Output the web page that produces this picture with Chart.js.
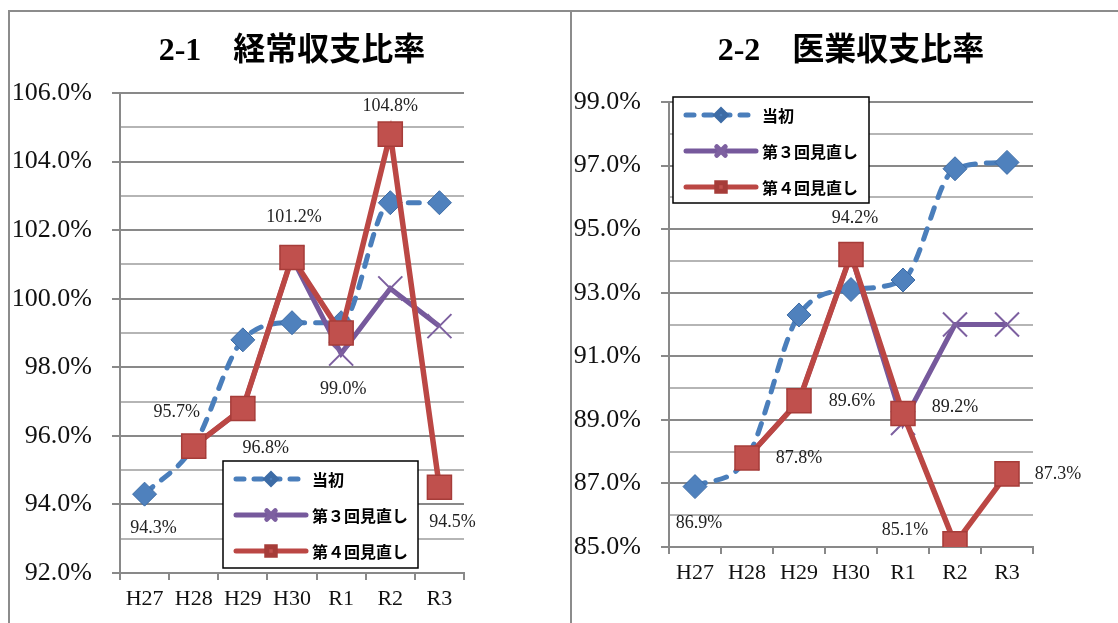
<!DOCTYPE html>
<html>
<head>
<meta charset="utf-8">
<script src="https://cdn.jsdelivr.net/npm/chart.js@4.4.1/dist/chart.umd.min.js"></script>
<style>
html, body { margin: 0; padding: 0; background: #fff; }
body { width: 1118px; height: 623px; position: relative; overflow: hidden; }
.panel { position: absolute; top: 0; height: 623px; }
#p1 { left: 0; width: 570px; }
#p2 { left: 570px; width: 548px; }
.rule { position: absolute; background: #8c8c8c; }
</style>
</head>
<body>
<div class="panel" id="p1"><canvas id="c1"></canvas></div>
<div class="panel" id="p2"><canvas id="c2"></canvas></div>
<div class="rule" style="left:8px;top:10px;width:1110px;height:2px"></div>
<div class="rule" style="left:8px;top:10px;width:2px;height:613px"></div>
<div class="rule" style="left:570px;top:10px;width:2px;height:613px"></div>

<script>
// categories and series names
const years = ['H27', 'H28', 'H29', 'H30', 'R1', 'R2', 'R3'];
const seriesNames = ['当初', '第３回見直し', '第４回見直し'];

// 2-1 経常収支比率
const keijoInitial = [94.3, 95.7, 98.8, 99.3, 99.3, 102.8, 102.8];
const keijoRev3 = [null, 95.7, 96.8, 101.2, 98.4, 100.3, 99.2];
const keijoRev4 = [null, 95.7, 96.8, 101.2, 99.0, 104.8, 94.5];
const keijoTicks = [92, 94, 96, 98, 100, 102, 104, 106];

// 2-2 医業収支比率
const igyoInitial = [86.9, 87.8, 92.3, 93.1, 93.4, 96.9, 97.1];
const igyoRev3 = [null, 87.8, 89.6, 94.2, 88.9, 92.0, 92.0];
const igyoRev4 = [null, 87.8, 89.6, 94.2, 89.2, 85.1, 87.3];
const igyoTicks = [85, 87, 89, 91, 93, 95, 97, 99];

const serif = '"Liberation Serif", "Noto Sans CJK JP"';
const majorGrid = '#898989';
const minorGrid = '#b5b5b5';

// value labels: [dataset, point, dx, dy]
const keijoLabels = [[0, 0, 9, 34], [2, 1, -17, -34], [2, 2, 23, 40], [2, 3, 2, -40],
                     [2, 4, 2, 56], [2, 5, 0, -28], [2, 6, 13, 35]];
const igyoLabels = [[0, 0, 4, 37], [2, 1, 52, 0], [2, 2, 53, 0], [2, 3, 4, -36],
                    [2, 4, 52, -6], [2, 5, -50, -14], [2, 6, 51, 0]];

// draws the percent labels next to points
const pointLabels = {
    id: 'pointLabels',
    afterDatasetsDraw(chart, args, opts) {
        const ctx = chart.ctx;
        ctx.save();
        ctx.font = '18px ' + serif;
        ctx.fillStyle = '#222';
        ctx.textAlign = 'center';
        ctx.textBaseline = 'middle';
        opts.items.forEach(([ds, i, dx, dy]) => {
            const pt = chart.getDatasetMeta(ds).data[i];
            const v = chart.data.datasets[ds].data[i];
            ctx.fillText(v.toFixed(1) + '%', pt.x + dx, pt.y + dy);
        });
        ctx.restore();
    }
};

// boxed legend sitting inside the plot
const boxLegend = {
    id: 'boxLegend',
    afterDraw(chart, args, opts) {
        const ctx = chart.ctx;
        const b = opts.box;
        ctx.save();
        ctx.fillStyle = '#fff';
        ctx.fillRect(b.x, b.y, b.w, b.h);
        ctx.lineWidth = 1.5;
        ctx.strokeStyle = '#000';
        ctx.strokeRect(b.x, b.y, b.w, b.h);
        chart.data.datasets.forEach((d, i) => {
            const y = b.y + 18 + i * 36;
            const x0 = b.x + 13, x1 = b.x + 83;
            ctx.beginPath();
            ctx.setLineDash(d.borderDash ? [8, 10] : []);
            ctx.lineCap = 'round';
            ctx.lineWidth = 5;
            ctx.strokeStyle = d.borderColor;
            ctx.moveTo(x0, y);
            ctx.lineTo(x1, y);
            ctx.stroke();
            ctx.setLineDash([]);
            ctx.fillStyle = d.pointBackgroundColor;
            ctx.strokeStyle = d.pointBorderColor;
            Chart.helpers.drawPoint(ctx, {
                pointStyle: d.pointStyle, rotation: 0,
                radius: d.legendRadius, borderWidth: d.pointBorderWidth
            }, (x0 + x1) / 2, y);
            ctx.fillStyle = '#000';
            ctx.font = 'bold 16px "Noto Sans CJK JP"';
            ctx.textAlign = 'left';
            ctx.textBaseline = 'middle';
            ctx.fillText(d.label, b.x + 89, y + 1);
        });
        ctx.restore();
    }
};

function makeChart(id, title, initial, rev3, rev4, ticks, lay) {
    const lo = ticks[0], hi = ticks[ticks.length - 1];
    const isMajor = v => ticks.includes(Math.round(v * 10) / 10);
    return new Chart(document.getElementById(id), {
        type: 'line',
        data: {
            labels: years,
            datasets: [{
                label: seriesNames[0],
                data: initial,
                order: 3,
                borderColor: '#4a7ebb',
                borderWidth: 5,
                borderDash: [11, 11],
                borderCapStyle: 'round',
                cubicInterpolationMode: 'monotone',
                pointStyle: 'rectRot',
                pointRadius: 12,
                legendRadius: 5,
                pointBackgroundColor: '#4f81bd',
                pointBorderColor: '#3d6ca6',
                pointBorderWidth: 1
            }, {
                label: seriesNames[1],
                data: rev3,
                order: 2,
                borderColor: '#76599c',
                borderWidth: 5,
                tension: 0,
                pointStyle: 'crossRot',
                pointRadius: 17,
                legendRadius: 6,
                pointBackgroundColor: '#7d60a0',
                pointBorderColor: '#7d60a0',
                pointBorderWidth: 2
            }, {
                label: seriesNames[2],
                data: rev4,
                order: 1,
                borderColor: '#bb4744',
                borderWidth: 5.5,
                tension: 0,
                pointStyle: 'rect',
                pointRadius: 17,
                legendRadius: 6,
                pointBackgroundColor: '#c0504d',
                pointBorderColor: '#a63c39',
                pointBorderWidth: 1.5
            }]
        },
        options: {
            responsive: true,
            maintainAspectRatio: false,
            animation: false,
            layout: { padding: { left: 0, top: 0, right: lay.padRight, bottom: lay.padBottom } },
            plugins: {
                legend: { display: false },
                tooltip: { enabled: false },
                title: {
                    display: true,
                    text: title,
                    fullSize: false,
                    color: '#000',
                    font: { family: serif, size: 32, weight: 'bold', lineHeight: 1.2 },
                    padding: { top: 33, bottom: lay.titleBottom }
                },
                pointLabels: { items: lay.labels },
                boxLegend: { box: lay.legendBox }
            },
            scales: {
                x: {
                    offset: true,
                    afterFit: s => { s.height = 50; },
                    grid: { offset: true, drawOnChartArea: false, tickLength: 7, color: majorGrid, lineWidth: 2 },
                    border: { color: majorGrid, width: 2 },
                    ticks: { color: '#111', padding: 6, autoSkip: false, maxRotation: 0,
                             font: { family: serif, size: 22 } }
                },
                y: {
                    min: lo,
                    max: hi,
                    afterFit: s => { s.width = lay.yWidth; },
                    grid: {
                        tickLength: 8,
                        lineWidth: 2,
                        color: c => isMajor(c.tick.value) ? majorGrid : minorGrid,
                        tickColor: c => isMajor(c.tick.value) ? majorGrid : 'rgba(0,0,0,0)'
                    },
                    border: { color: majorGrid, width: 2 },
                    ticks: {
                        stepSize: 1,
                        maxTicksLimit: 40,
                        autoSkip: false,
                        padding: 20,
                        color: '#111',
                        font: { family: serif, size: 26 },
                        callback: v => isMajor(v) ? Number(v).toFixed(1) + '%' : ''
                    }
                }
            }
        },
        plugins: [pointLabels, boxLegend]
    });
}

makeChart('c1', '2-1　経常収支比率', keijoInitial, keijoRev3, keijoRev4, keijoTicks, {
    yWidth: 120, padRight: 106, padBottom: 0, titleBottom: 21.6,
    labels: keijoLabels,
    legendBox: { x: 223, y: 461, w: 195, h: 107 }
});

makeChart('c2', '2-2　医業収支比率', igyoInitial, igyoRev3, igyoRev4, igyoTicks, {
    yWidth: 99, padRight: 85, padBottom: 26, titleBottom: 30.6,
    labels: igyoLabels,
    legendBox: { x: 103, y: 97, w: 196, h: 106 }
});
</script>
</body>
</html>
